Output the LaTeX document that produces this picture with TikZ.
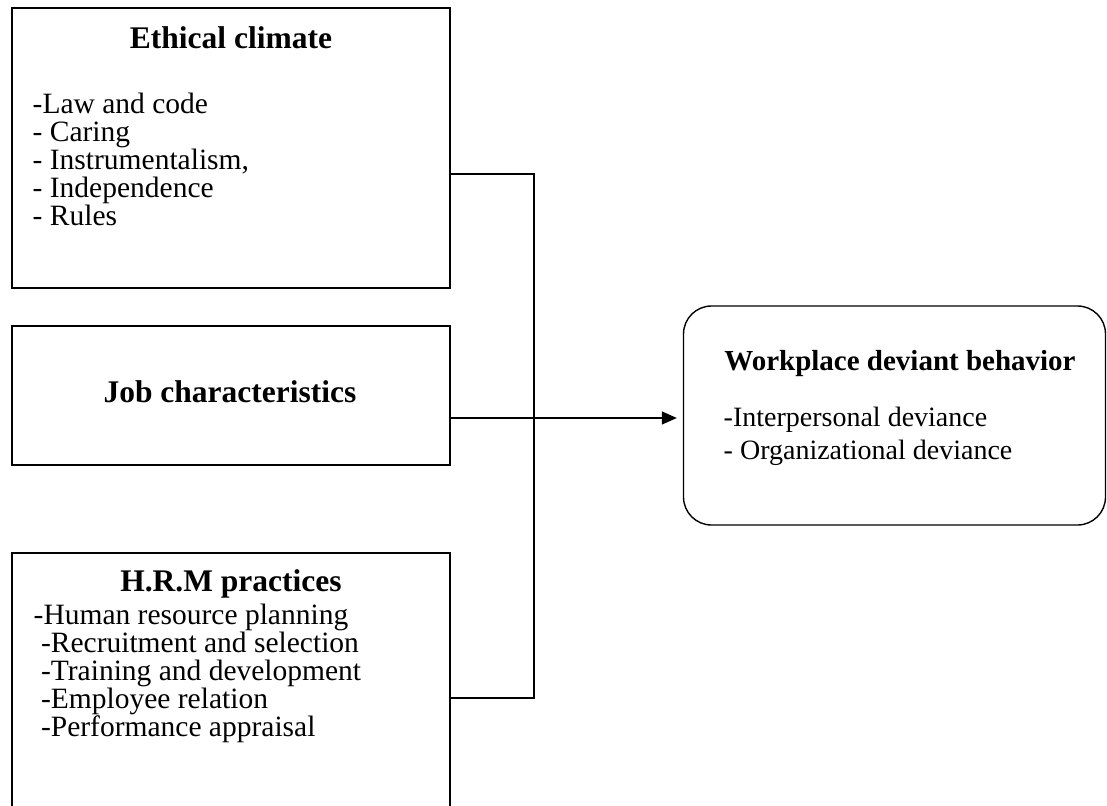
\documentclass[tikz,border=0pt]{standalone}
\usepackage{fontspec}
\setmainfont{Liberation Serif}
\usetikzlibrary{arrows.meta,positioning}

\begin{document}
\begin{tikzpicture}[x=1pt, y=-1pt, line width=1.4pt,
    box/.style={draw, rectangle, inner sep=0pt},
    goal/.style={draw, rectangle, rounded corners=28pt, inner sep=0pt},
    head/.style={font=\fontsize{31.5}{34}\selectfont\bfseries, inner sep=0pt, anchor=base},
    items/.style={font=\fontsize{29.5}{28}\selectfont, align=left, inner sep=0pt, anchor=north west},
    >={Triangle[length=15pt,width=13pt]}]

  \useasboundingbox (0,0) rectangle (1107,805);

  \node[box, minimum width=438pt, minimum height=280pt] (ethic) at (231,148) {};
  \node[box, minimum width=438pt, minimum height=139pt] (job) at (231,395.5) {};
  \node[box, minimum width=438pt, minimum height=277pt] (hrm) at (231,691.5) {};
  \node[goal, minimum width=422pt, minimum height=219pt] (wdb) at (894.5,415.5) {};

  \node[head] (ethicT) at (231,49) {Ethical climate};
  \node[items] (ethicL) at (32,92) {-Law and code\\- Caring\\- Instrumentalism,\\- Independence\\- Rules};

  \node[head] (jobT) at (230,402) {Job characteristics};

  \node[head] (hrmT) at (231,591) {H.R.M practices};
  \node[items] (hrmL) at (33,603) {-Human resource planning\\
    \hspace*{0.25em}-Recruitment and selection\\
    \hspace*{0.25em}-Training and development\\
    \hspace*{0.25em}-Employee relation\\
    \hspace*{0.25em}-Performance appraisal};

  \node[head, font=\fontsize{29}{32}\selectfont\bfseries] (wdbT) at (900,370) {Workplace deviant behavior};
  \node[items, font=\fontsize{28}{33}\selectfont] (wdbL) at (723,406) {-Interpersonal deviance\\- Organizational deviance};

  % joining lines
  \coordinate (up) at (534,174);
  \coordinate (down) at (534,698);
  \draw ([yshift=-26pt]ethic.east) -- (up) -- (down) -- ([yshift=-6.5pt]hrm.east);
  \draw[->] ([yshift=-22.5pt]job.east) -- ([xshift=-6pt,yshift=-2.5pt]wdb.west);

\end{tikzpicture}
\end{document}
